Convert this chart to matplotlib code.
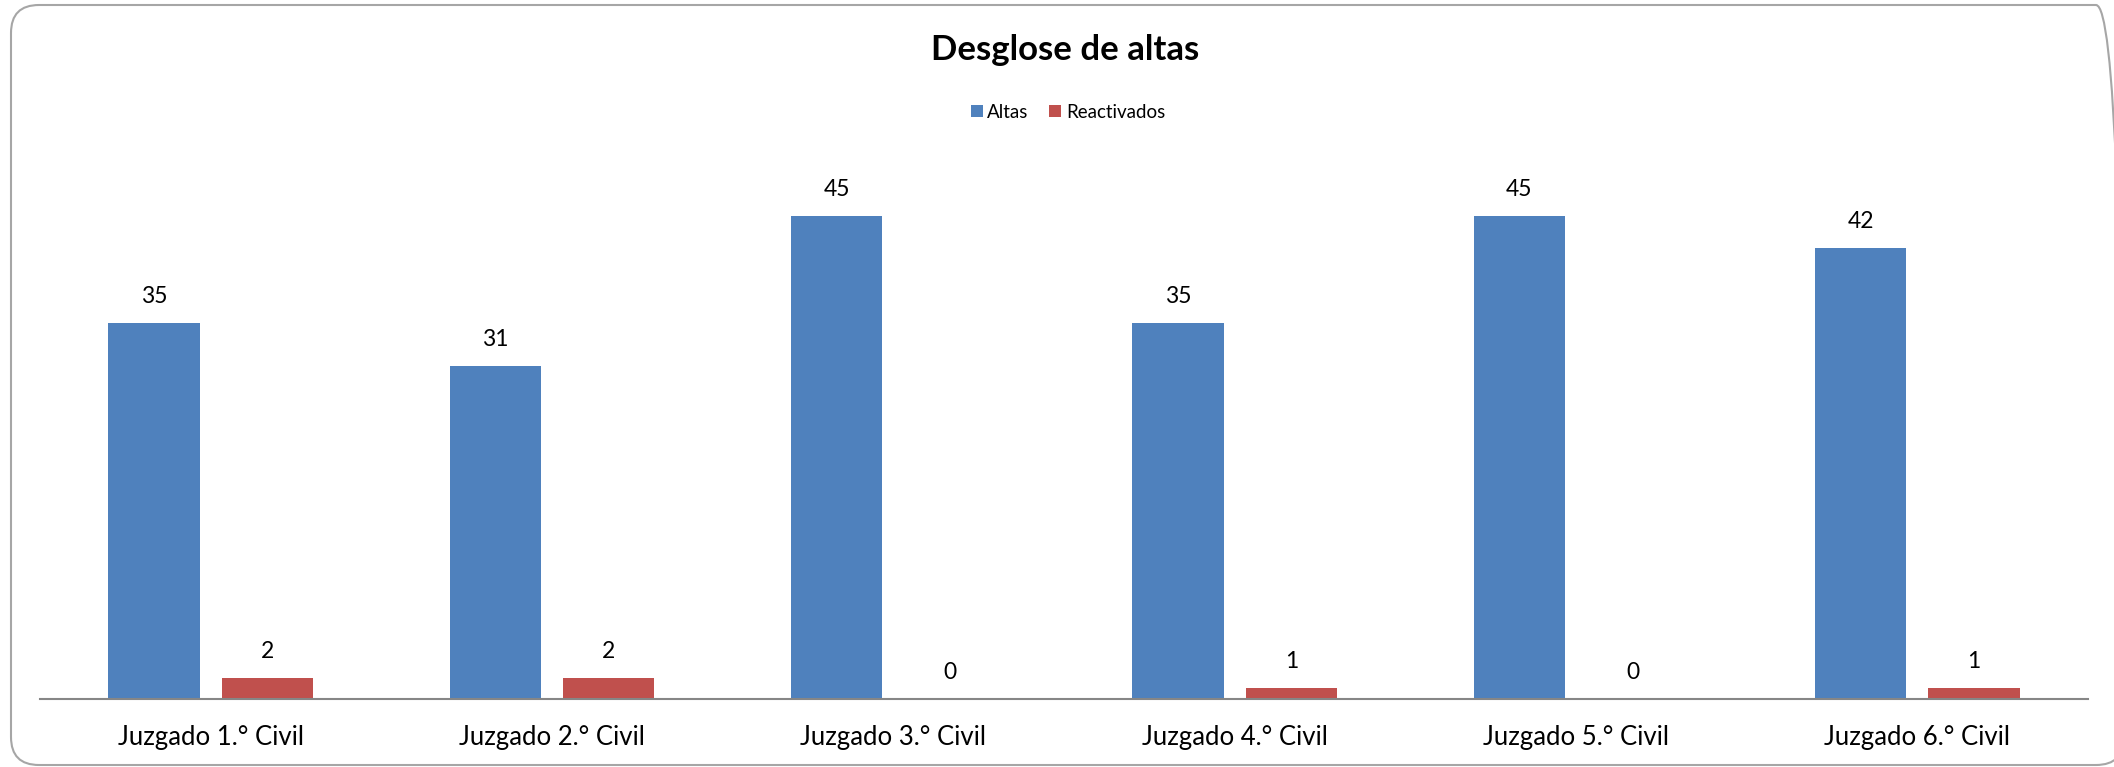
#!/usr/bin/env python3
import matplotlib
matplotlib.use("Agg")
import matplotlib.pyplot as plt
from matplotlib.patches import FancyBboxPatch
import numpy as np

categories = [
    "Juzgado 1.° Civil",
    "Juzgado 2.° Civil",
    "Juzgado 3.° Civil",
    "Juzgado 4.° Civil",
    "Juzgado 5.° Civil",
    "Juzgado 6.° Civil",
]
altas = [35, 31, 45, 35, 45, 42]
reactivados = [2, 2, 0, 1, 0, 1]

BLUE = "#4F81BD"
RED = "#C0504D"

plt.rcParams["font.family"] = ["Lato", "DejaVu Sans"]

fig = plt.figure(figsize=(21.14, 7.67), dpi=100)
ax = fig.add_axes([40 / 2114, 68 / 767, 2048 / 2114, 536.7 / 767])

x = np.arange(len(categories))
width = 0.267
offset = 0.166

b1 = ax.bar(x - offset, altas, width=width, color=BLUE, label="Altas")
b2 = ax.bar(x + offset, reactivados, width=width, color=RED, label="Reactivados")

# etiquetas de valor encima de cada barra
for bars in (b1, b2):
    for bar in bars:
        h = bar.get_height()
        ax.annotate(f"{int(h)}", (bar.get_x() + bar.get_width() / 2, h),
                    xytext=(0, 19), textcoords="offset points",
                    ha="center", va="center", fontsize=16.5, color="black")

ax.set_xlim(-0.5, len(categories) - 0.5)
ax.set_ylim(0, 50)
ax.set_xticks(x)
ax.set_xticklabels(categories, fontsize=18.5)
ax.tick_params(axis="x", length=0, pad=19)
ax.set_yticks([])
for side in ("top", "right", "left"):
    ax.spines[side].set_visible(False)
ax.spines["bottom"].set_color("#868686")
ax.spines["bottom"].set_linewidth(1.5)

fig.text(1065 / 2114, 1 - 50 / 767, "Desglose de altas", ha="center", va="center",
         fontsize=25, fontweight="bold")

fig.legend(handles=[b1, b2], labels=["Altas", "Reactivados"],
           loc="center", bbox_to_anchor=(1068 / 2114, 1 - 112 / 767),
           ncol=2, frameon=False, fontsize=13.5,
           handlelength=0.64, handleheight=0.64, handletextpad=0.25,
           columnspacing=1.1)

border = FancyBboxPatch((0.11, 0.02), 21.13, 7.6,
                        boxstyle="round,pad=0,rounding_size=0.28",
                        transform=fig.dpi_scale_trans, facecolor="none",
                        edgecolor="#A6A6A6", linewidth=1.5, clip_on=False)
fig.patches.append(border)

fig.savefig("out.png", dpi=100)
